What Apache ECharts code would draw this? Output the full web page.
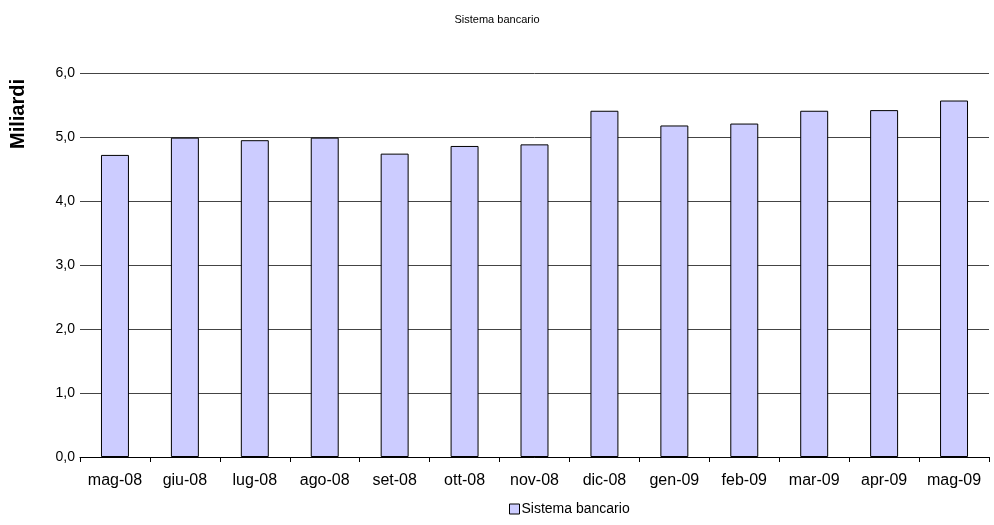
<!DOCTYPE html>
<html><head><meta charset="utf-8">
<script src="https://cdn.jsdelivr.net/npm/echarts@6/dist/echarts.min.js"></script>
<style>html,body{margin:0;padding:0;background:#fff}#c{width:994px;height:525px}</style>
</head><body><div id="c"></div>
<script>
const categories = ['mag-08','giu-08','lug-08','ago-08','set-08','ott-08','nov-08','dic-08','gen-09','feb-09','mar-09','apr-09','mag-09'];
const values = [4.72, 4.99, 4.95, 4.99, 4.74, 4.86, 4.885, 5.41, 5.18, 5.21, 5.41, 5.42, 5.57];
const seriesName = 'Sistema bancario';
const chart = echarts.init(document.getElementById('c'));
chart.setOption({
  animation: false,
  backgroundColor: '#fff',
  title: { text: 'Sistema bancario', left: 'center', top: 9, textStyle: { fontFamily: 'Liberation Sans, Arial', fontSize: 11, fontWeight: 'normal', color: '#000' } },
  graphic: [{ type: 'text', x: 18, y: 114, rotation: Math.PI/2,
    style: { text: 'Miliardi', font: 'bold 20px Liberation Sans, Arial', fill: '#000', align: 'center', verticalAlign: 'middle' } }],
  grid: { left: 80, right: 5, top: 73, bottom: 68 },
  legend: { top: 502, left: 509, padding: 0, itemWidth: 10, itemHeight: 10, itemGap: 4, icon: 'rect', data: [seriesName],
    itemStyle: { borderColor: '#000', borderWidth: 1 },
    textStyle: { fontFamily: 'Liberation Sans, Arial', fontSize: 14, color: '#000', padding: [0,0,0,-3] } },
  xAxis: { type: 'category', data: categories,
    axisLine: { lineStyle: { color: '#000', width: 1 } },
    axisTick: { show: true, length: 5, alignWithLabel: false, lineStyle: { color: '#000' } },
    axisLabel: { fontFamily: 'Liberation Sans, Arial', fontSize: 16, color: '#000', margin: 16, interval: 0 } },
  yAxis: { type: 'value', min: 0, max: 6, interval: 1,
    axisLine: { show: false }, axisTick: { show: false },
    splitLine: { lineStyle: { color: '#444', width: 1 } },
    axisLabel: { fontFamily: 'Liberation Sans, Arial', fontSize: 14, color: '#000', margin: 5,
      formatter: v => v.toFixed(1).replace('.', ',') } },
  series: [{ name: seriesName, type: 'bar', data: values, barWidth: '40%',
    itemStyle: { color: '#CCCCFF', borderColor: '#000', borderWidth: 1 } }]
});
</script></body></html>
